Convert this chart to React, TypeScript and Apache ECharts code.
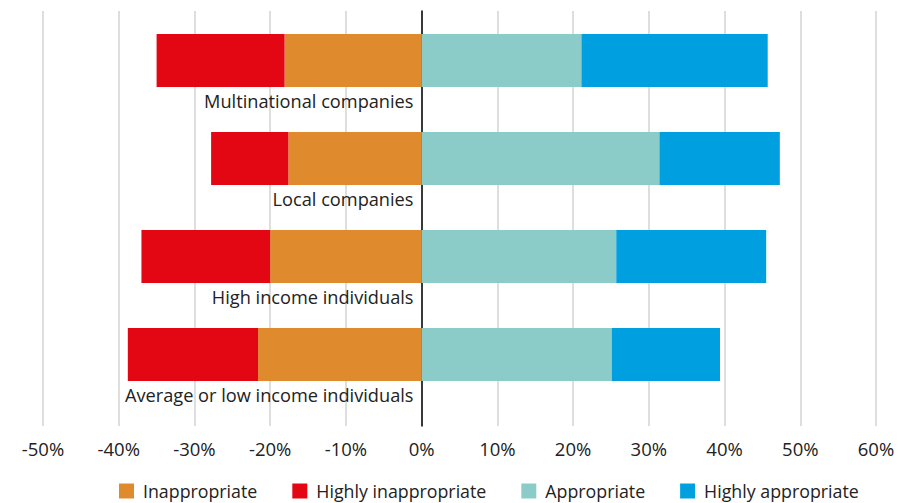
import React, { useEffect, useRef } from "react";
import * as echarts from "echarts";

const categories = [
  "Multinational companies",
  "Local companies",
  "High income individuals",
  "Average or low income individuals",
];
const inappropriate = [18.1, 17.6, 20.0, 21.6];
const highlyInappropriate = [16.9, 10.2, 17.0, 17.2];
const appropriate = [21.1, 31.4, 25.7, 25.1];
const highlyAppropriate = [24.6, 15.9, 19.8, 14.3];

const FONT = "Open Sans";

export default function App() {
  const ref = useRef<HTMLDivElement>(null);
  useEffect(() => {
    if (!ref.current) return;
    const chart = echarts.init(ref.current, undefined, { renderer: "svg" });
    const barBase = { type: "bar" as const, stack: "total", barWidth: 53, xAxisIndex: 0, yAxisIndex: 0 };
    chart.setOption({
      animation: false,
      textStyle: { fontFamily: FONT },
      grid: [
        { left: 43, right: 34, top: 11.5, height: 392, outerBoundsMode: "none", containLabel: false },
        { left: 43, right: 34, top: 11, bottom: 77, outerBoundsMode: "none", containLabel: false },
      ],
      xAxis: [
        {
          gridIndex: 0,
          type: "value",
          min: -50,
          max: 60,
          interval: 10,
          axisLabel: { show: false },
          axisLine: { show: false },
          axisTick: { show: false },
          splitLine: { show: false },
        },
        {
          gridIndex: 1,
          type: "value",
          min: -50,
          max: 60,
          interval: 10,
          axisLine: { show: false },
          axisTick: { show: false },
          splitLine: { show: true, lineStyle: { color: "#d3d3d3", width: 1.5 } },
          axisLabel: {
            margin: 13,
            fontSize: 18.5,
            color: "#222",
            fontFamily: FONT,
            formatter: (v: number) => `${v}%`,
          },
        },
      ],
      yAxis: [
        {
          gridIndex: 0,
          type: "category",
          inverse: true,
          position: "left",
          offset: -378.5,
          data: categories,
          axisLine: { show: false, onZero: false },
          axisTick: { show: false },
          axisLabel: {
            interval: 0,
            hideOverlap: false,
            showMinLabel: true,
            showMaxLabel: true,
            margin: 8,
            fontSize: 18.2,
            color: "#222",
            fontFamily: FONT,
            lineHeight: 80,
            formatter: (v: string) => "\n" + v,
          },
        },
        {
          gridIndex: 1,
          type: "value",
          min: 0,
          max: 1,
          axisLine: { show: true, onZero: true, lineStyle: { color: "#000", width: 1.5 } },
          axisTick: { show: false },
          axisLabel: { show: false },
          splitLine: { show: false },
        },
      ],
      legend: {
        data: ["Inappropriate", "Highly inappropriate", "Appropriate", "Highly appropriate"],
        left: 119,
        top: 482,
        padding: 0,
        icon: "rect",
        itemWidth: 15,
        itemHeight: 15,
        itemGap: 35,
        textStyle: { fontSize: 17.8, color: "#222", fontFamily: FONT, padding: [0, 0, 0, 4] },
      },
      series: [
        { ...barBase, name: "Inappropriate", data: inappropriate.map((v) => -v), itemStyle: { color: "#E08A2E" } },
        { ...barBase, name: "Highly inappropriate", data: highlyInappropriate.map((v) => -v), itemStyle: { color: "#E30613" } },
        { ...barBase, name: "Appropriate", data: appropriate, itemStyle: { color: "#8BCCC8" } },
        { ...barBase, name: "Highly appropriate", data: highlyAppropriate, itemStyle: { color: "#00A0E0" } },
      ],
    });
    return () => chart.dispose();
  }, []);
  return <div ref={ref} style={{ width: 910, height: 503, position: "absolute", left: 0, top: 0 }} />;
}
